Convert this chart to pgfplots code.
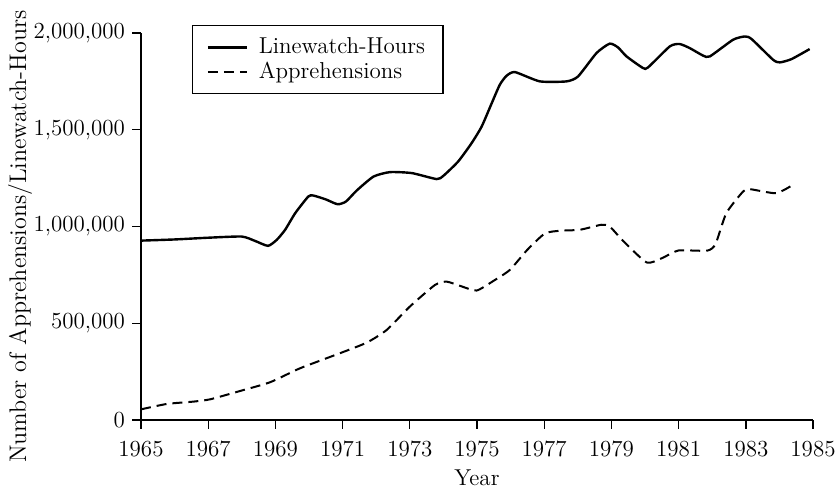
\documentclass[border=0pt]{standalone}
\usepackage{pgfplots}
\pgfplotsset{compat=1.18}
\begin{document}
\begin{tikzpicture}
\useasboundingbox (-70.5pt,-35.5pt) rectangle (349.5pt,210pt);
\begin{axis}[
  scale only axis,
  width=336pt, height=193.5pt,
  xmin=1965, xmax=1985, ymin=0, ymax=2000000,
  axis x line*=bottom, axis y line*=left,
  axis line style={-, line width=0.8pt},
  tick align=outside,
  major tick length=4.5pt,
  tick style={line width=0.7pt, black},
  xtick={1965,1967,...,1985},
  ytick={0,500000,1000000,1500000,2000000},
  scaled y ticks=false,
  /pgf/number format/assume math mode=true,
  xticklabel style={/pgf/number format/1000 sep=, yshift=-2.5pt},
  yticklabel style={/pgf/number format/fixed,/pgf/number format/1000 sep={,}},
  tick label style={font=\fontsize{11.5}{13}\selectfont},
  xlabel={Year},
  ylabel={Number of Apprehensions/Linewatch-Hours},
  xlabel style={font=\fontsize{11.5}{13}\selectfont, inner sep=0pt, at={(rel axis cs:0.5,-0.15)}, anchor=center},
  ylabel style={font=\fontsize{12}{14}\selectfont, inner sep=0pt, at={(rel axis cs:-0.18,0.474)}, anchor=center},
  legend style={at={(0.076,1.02)}, anchor=north west, draw=black, line width=0.6pt,
    font=\fontsize{11.5}{13}\selectfont, inner xsep=7pt, inner ysep=4pt, row sep=-1.5pt,
    /tikz/every odd column/.append style={column sep=3.5pt}},
  legend cell align=left,
  legend image code/.code={\draw[#1] (0cm,0cm) -- (0.68cm,0cm);},
  clip=false,
]
\addplot[black, line width=1.2pt, smooth, tension=0.35] coordinates {
(1965.0,927000) (1966.0,933000) (1967.0,942000) (1968.0,948000) (1968.4,925000)
(1968.78,900000) (1969.04,931000) (1969.29,983000) (1969.59,1069000) (1969.98,1155000)
(1970.13,1160000) (1970.5,1140000) (1970.85,1115000) (1971.1,1129000) (1971.42,1186000)
(1971.92,1258000) (1972.41,1281000) (1973.06,1276000) (1973.8,1245000) (1974.0,1262000)
(1974.44,1336000) (1974.84,1431000) (1975.14,1517000) (1975.44,1638000) (1975.68,1733000)
(1975.88,1779000) (1976.13,1798000) (1976.87,1750000) (1977.67,1750000) (1978.01,1776000)
(1978.56,1897000) (1978.95,1945000) (1979.2,1925000) (1979.45,1879000) (1979.94,1819000)
(1980.09,1822000) (1980.74,1931000) (1981.03,1943000) (1981.33,1922000) (1981.73,1883000)
(1981.93,1879000) (1982.62,1965000) (1982.97,1982000) (1983.17,1969000) (1983.81,1862000)
(1984.01,1848000) (1984.36,1865000) (1984.9,1917000)
};
\addlegendentry{Linewatch-Hours}
\addplot[black, line width=1pt, dash pattern=on 5pt off 3pt, smooth, tension=0.35] coordinates {
(1965.0,55000) (1965.77,83000) (1966.56,95000) (1967.06,107000) (1967.95,150000)
(1968.84,195000) (1969.73,267000) (1970.92,345000) (1971.72,400000) (1972.31,465000)
(1973.0,586000) (1973.75,698000) (1974.1,715000) (1974.55,690000) (1974.99,669000)
(1975.5,720000) (1975.98,776000) (1976.5,880000) (1977.02,964000) (1977.47,978000)
(1978.06,983000) (1978.7,1009000) (1978.95,1000000) (1979.35,925000) (1980.05,814000)
(1980.5,836000) (1981.0,876000) (1981.85,875000) (1982.1,910000) (1982.42,1069000)
(1982.92,1181000) (1983.12,1193000) (1983.9,1172000) (1984.4,1215000)
};
\addlegendentry{Apprehensions}
\end{axis}
\end{tikzpicture}
\end{document}
